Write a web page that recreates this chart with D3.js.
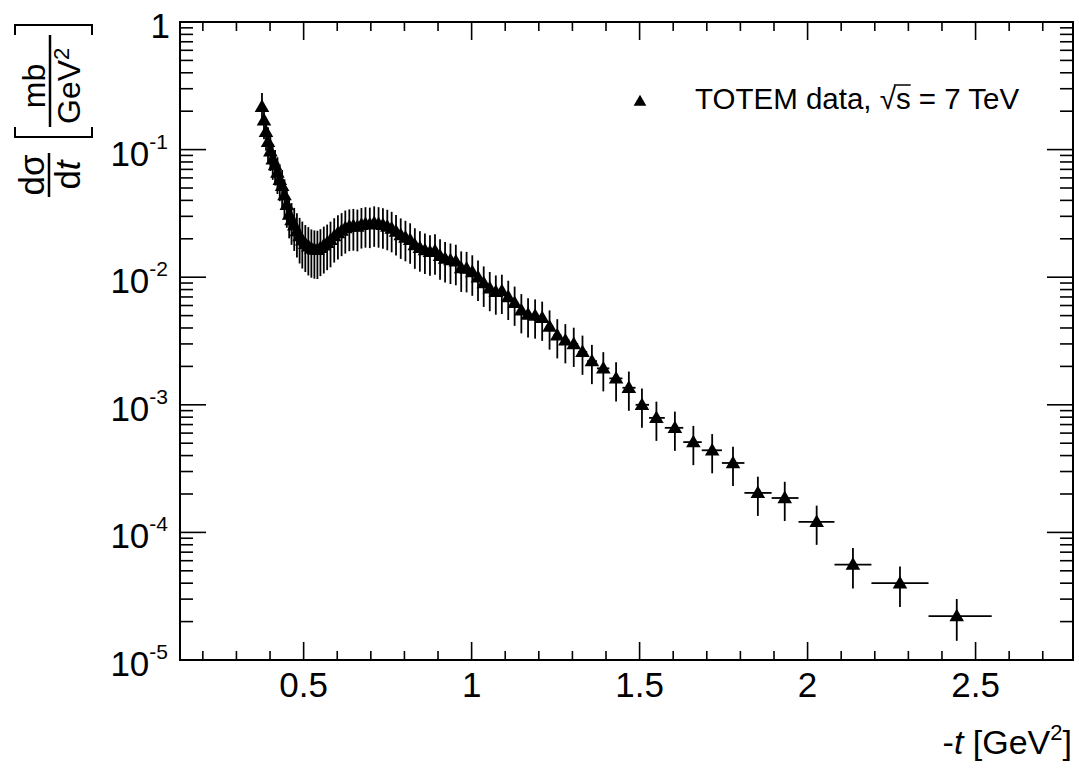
<!DOCTYPE html>
<html>
<head>
<meta charset="utf-8">
<script src="https://cdn.jsdelivr.net/npm/d3@7"></script>
<style>
  body { margin: 0; background: #fff; }
  text { font-family: "Liberation Sans", Arial, Helvetica, sans-serif; fill: #000; }
</style>
</head>
<body>
<svg id="chart" width="1079" height="772"></svg>
<script>
// -t [GeV^2] of each point
const tVals = [
  0.376, 0.382, 0.388, 0.394, 0.401, 0.408, 0.415, 0.422, 0.429, 0.436,
  0.443, 0.450, 0.457, 0.464, 0.472, 0.480, 0.488, 0.496, 0.505, 0.514,
  0.523, 0.532, 0.541, 0.550, 0.560, 0.570, 0.580, 0.591, 0.602, 0.613,
  0.624, 0.636, 0.648, 0.660, 0.672, 0.684, 0.697, 0.710, 0.723, 0.736,
  0.749, 0.762, 0.775, 0.789, 0.803, 0.817, 0.831, 0.846, 0.861, 0.876,
  0.891, 0.906, 0.921, 0.937, 0.953, 0.969, 0.985, 1.002, 1.019, 1.036,
  1.054, 1.072, 1.090, 1.109, 1.128, 1.148, 1.168, 1.189, 1.210, 1.232,
  1.255, 1.279, 1.304, 1.330, 1.358, 1.392, 1.430, 1.468, 1.507, 1.550,
  1.605, 1.660, 1.716, 1.778, 1.852, 1.932, 2.027, 2.135, 2.275, 2.444
]

// d sigma / dt [mb/GeV^2]
const dsdt = [
  0.217, 0.170, 0.138, 0.115, 0.097, 0.084, 0.0757, 0.066, 0.058, 0.052,
  0.044, 0.037, 0.031, 0.028, 0.0255, 0.023, 0.021, 0.0195, 0.0183, 0.0175,
  0.0168, 0.0165, 0.0164, 0.0170, 0.0178, 0.0186, 0.0196, 0.0210, 0.0222, 0.0232,
  0.0243, 0.0250, 0.0252, 0.0249, 0.0258, 0.0262, 0.0260, 0.0266, 0.0262, 0.0257,
  0.0250, 0.0241, 0.0228, 0.0214, 0.0205, 0.0196, 0.0179, 0.0170, 0.0163, 0.0158,
  0.0161, 0.0147, 0.0140, 0.0136, 0.0133, 0.0118, 0.0117, 0.0110, 0.0100, 0.0090,
  0.0082, 0.0077, 0.0078, 0.0070, 0.0063, 0.0055, 0.0051, 0.0050, 0.0048, 0.0041,
  0.0035, 0.0032, 0.0030, 0.0026, 0.0022, 0.00193, 0.00161, 0.00136, 0.00100, 0.00079,
  0.00066, 0.00051, 0.00044, 0.00035, 0.000204, 0.000186, 0.000121, 0.000056, 0.000040, 0.0000221
]

// uncertainty in percent of the value
const errPct = [
  28, 29, 29, 30, 30, 31, 31, 32, 32, 33,
  33, 34, 35, 36, 37, 38, 39, 40, 40, 41,
  41, 41, 41, 40, 40, 39, 39, 38, 38, 37,
  37, 36, 36, 36, 35, 35, 35, 35, 35, 35,
  35, 35, 35, 35, 35, 35, 35, 35, 35, 35,
  35, 35, 35, 35, 35, 35, 35, 35, 35, 35,
  34, 34, 34, 34, 34, 34, 34, 34, 34, 34,
  34, 34, 34, 34, 34, 34, 34, 34, 34, 34,
  34, 34, 34, 34, 34, 34, 34, 35, 35, 36
]

// bin edges in -t (one more than points)
const tEdges = [
  0.373, 0.379, 0.385, 0.391, 0.397, 0.404, 0.411, 0.418, 0.425, 0.432,
  0.439, 0.446, 0.453, 0.460, 0.468, 0.476, 0.484, 0.492, 0.500, 0.509,
  0.518, 0.527, 0.536, 0.545, 0.555, 0.565, 0.575, 0.585, 0.596, 0.607,
  0.618, 0.630, 0.642, 0.654, 0.666, 0.678, 0.690, 0.703, 0.716, 0.729,
  0.742, 0.755, 0.768, 0.782, 0.796, 0.810, 0.824, 0.838, 0.853, 0.868,
  0.883, 0.898, 0.913, 0.929, 0.945, 0.961, 0.977, 0.993, 1.010, 1.027,
  1.045, 1.063, 1.081, 1.099, 1.118, 1.138, 1.158, 1.178, 1.199, 1.221,
  1.243, 1.267, 1.291, 1.317, 1.344, 1.373, 1.410, 1.449, 1.488, 1.528,
  1.575, 1.630, 1.685, 1.745, 1.812, 1.893, 1.973, 2.080, 2.190, 2.360,
  2.548
]

const xMajor = [0.5, 1, 1.5, 2, 2.5]
const xMajorLabels = ['0.5', '1', '1.5', '2', '2.5']
const xMinor = [0.2, 0.3, 0.4, 0.6, 0.7, 0.8, 0.9, 1.1, 1.2, 1.3, 1.4, 1.6, 1.7, 1.8, 1.9,
  2.1, 2.2, 2.3, 2.4, 2.6, 2.7]
const yMajor = [1, 1e-1, 1e-2, 1e-3, 1e-4, 1e-5]
const yBase = ['1', '10', '10', '10', '10', '10']
const yExp = ['', '-1', '-2', '-3', '-4', '-5']

const svg = d3.select('#chart')

const frame = { left: 180, right: 1073, top: 22, bottom: 660 }

const x = d3.scaleLinear().domain([0.132, 2.79]).range([frame.left, frame.right])
const y = d3.scaleLog().domain([1e-5, 1]).range([frame.bottom, frame.top])

const yMinor = y.ticks().filter(v => !yMajor.some(m => Math.abs(m - v) / m < 1e-6))

const ticks = svg.append('g')
  .attr('stroke', '#000')
  .attr('stroke-width', 1.6)

// x ticks, bottom and top, pointing inside
const xTicks = [
  ...xMajor.map(v => ({ v, len: 18 })),
  ...xMinor.map(v => ({ v, len: 9 }))
]
ticks.selectAll('.xb').data(xTicks).enter().append('line')
  .attr('x1', d => x(d.v)).attr('x2', d => x(d.v))
  .attr('y1', frame.bottom).attr('y2', d => frame.bottom - d.len)
ticks.selectAll('.xt').data(xTicks).enter().append('line')
  .attr('x1', d => x(d.v)).attr('x2', d => x(d.v))
  .attr('y1', frame.top).attr('y2', d => frame.top + d.len)

// y ticks, left and right
const yTicks = [
  ...yMajor.map(v => ({ v, len: 26 })),
  ...yMinor.map(v => ({ v, len: 13 }))
]
ticks.selectAll('.yl').data(yTicks).enter().append('line')
  .attr('y1', d => y(d.v)).attr('y2', d => y(d.v))
  .attr('x1', frame.left).attr('x2', d => frame.left + d.len)
ticks.selectAll('.yr').data(yTicks).enter().append('line')
  .attr('y1', d => y(d.v)).attr('y2', d => y(d.v))
  .attr('x1', frame.right).attr('x2', d => frame.right - d.len)

svg.append('rect')
  .attr('x', frame.left).attr('y', frame.top)
  .attr('width', frame.right - frame.left).attr('height', frame.bottom - frame.top)
  .attr('fill', 'none').attr('stroke', '#000').attr('stroke-width', 2)

// tick labels
svg.selectAll('.xlab').data(xMajor).enter().append('text')
  .attr('x', d => x(d)).attr('y', frame.bottom + 37)
  .attr('text-anchor', 'middle')
  .style('font-size', '35px')
  .text((d, i) => xMajorLabels[i])

const ylab = svg.selectAll('.ylab').data(yMajor).enter().append('text')
  .attr('x', (d, i) => yExp[i] ? 168 : 170)
  .attr('y', d => y(d) + 16)
  .attr('text-anchor', 'end')
  .style('font-size', '35px')
ylab.append('tspan').text((d, i) => yBase[i])
ylab.append('tspan')
  .attr('dy', -17)
  .style('font-size', '21px')
  .text((d, i) => yExp[i])

// data: error bars then markers
const pts = tVals.map((t, i) => ({
  t, v: dsdt[i], e: dsdt[i] * errPct[i] / 100, lo: tEdges[i], hi: tEdges[i + 1]
}))

const bars = svg.append('g')
  .attr('stroke', '#000')
  .attr('stroke-width', 1.8)
bars.selectAll('.ev').data(pts).enter().append('line')
  .attr('x1', d => x(d.t)).attr('x2', d => x(d.t))
  .attr('y1', d => y(d.v + d.e)).attr('y2', d => y(d.v - d.e))
bars.selectAll('.eh').data(pts).enter().append('line')
  .attr('x1', d => x(d.lo)).attr('x2', d => x(d.hi))
  .attr('y1', d => y(d.v)).attr('y2', d => y(d.v))

const tri = d3.symbol().type(d3.symbolTriangle).size(92)
svg.append('g').selectAll('path').data(pts).enter().append('path')
  .attr('d', tri)
  .attr('transform', d => `translate(${x(d.t)},${y(d.v) + 1})`)
  .attr('fill', '#000')

// legend
svg.append('path')
  .attr('d', d3.symbol().type(d3.symbolTriangle).size(70)())
  .attr('transform', 'translate(640,102)')
  .attr('fill', '#000')

const leg = svg.append('text')
  .attr('x', 695).attr('y', 109)
  .style('font-size', '29.5px')
  .text('TOTEM data, \u221As = 7 TeV')
const sIdx = 'TOTEM data, \u221A'.length
const rootBox = leg.node().getExtentOfChar(sIdx - 1)
const sBox = leg.node().getExtentOfChar(sIdx)
svg.append('line')
  .attr('x1', rootBox.x + rootBox.width - 2).attr('x2', sBox.x + sBox.width)
  .attr('y1', 85).attr('y2', 85)
  .attr('stroke', '#000').attr('stroke-width', 1.5)

// x title
const xt = svg.append('text')
  .attr('x', 1072).attr('y', 754)
  .attr('text-anchor', 'end')
  .style('font-size', '34px')
xt.append('tspan').text('-')
xt.append('tspan').style('font-style', 'italic').text('t')
xt.append('tspan').text(' [GeV')
xt.append('tspan').attr('dy', -14).style('font-size', '22px').text('2')
xt.append('tspan').attr('dy', 14).text(']')

// y title: d sigma / dt [mb / GeV^2], rotated
const yt = svg.append('g').attr('transform', 'translate(0,200) rotate(-90)')
yt.append('text').attr('x', 25).attr('y', 44)
  .attr('text-anchor', 'middle').style('font-size', '35px').text('d\u03C3')
yt.append('line').attr('x1', 3).attr('x2', 47).attr('y1', 49).attr('y2', 49)
  .attr('stroke', '#000').attr('stroke-width', 2.5)
const dt = yt.append('text').attr('x', 25).attr('y', 80)
  .attr('text-anchor', 'middle').style('font-size', '35px')
dt.append('tspan').text('d')
dt.append('tspan').style('font-style', 'italic').text('t')

const brk = yt.append('g').attr('fill', 'none').attr('stroke', '#000').attr('stroke-width', 2)
brk.append('path').attr('d', 'M73,15 L63,15 L63,92 L73,92')
brk.append('path').attr('d', 'M165,15 L175,15 L175,92 L165,92')

yt.append('text').attr('x', 114).attr('y', 45)
  .attr('text-anchor', 'middle').style('font-size', '32px').text('mb')
yt.append('line').attr('x1', 73).attr('x2', 165).attr('y1', 50).attr('y2', 50)
  .attr('stroke', '#000').attr('stroke-width', 2.5)
const gev = yt.append('text').attr('x', 76).attr('y', 80).style('font-size', '32px')
gev.append('tspan').text('GeV')
gev.append('tspan').attr('dy', -11).style('font-size', '22px').text('2')
</script>
</body>
</html>
